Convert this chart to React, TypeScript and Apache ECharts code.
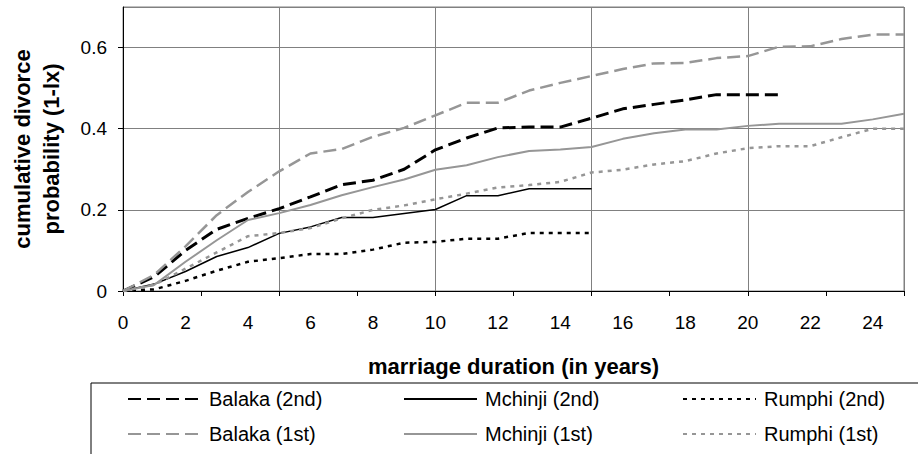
import React, { useEffect, useRef } from "react";
import * as echarts from "echarts";

const years = [0, 1, 2, 3, 4, 5, 6, 7, 8, 9, 10, 11, 12, 13, 14, 15, 16, 17, 18, 19, 20, 21, 22, 23, 24, 25];

const balaka2nd = [0, 0.035, 0.1, 0.152, 0.179, 0.203, 0.232, 0.262, 0.273, 0.3, 0.348, 0.377, 0.402, 0.404, 0.404, 0.426, 0.449, 0.46, 0.471, 0.484, 0.484, 0.484];
const mchinji2nd = [0, 0.017, 0.048, 0.085, 0.107, 0.142, 0.158, 0.181, 0.181, 0.191, 0.201, 0.235, 0.235, 0.252, 0.252, 0.252];
const rumphi2nd = [0, 0.004, 0.025, 0.05, 0.072, 0.081, 0.091, 0.091, 0.102, 0.119, 0.121, 0.129, 0.129, 0.143, 0.143, 0.143];
const balaka1st = [0, 0.04, 0.11, 0.187, 0.244, 0.295, 0.339, 0.35, 0.38, 0.402, 0.433, 0.464, 0.464, 0.494, 0.513, 0.53, 0.547, 0.561, 0.562, 0.574, 0.579, 0.602, 0.603, 0.621, 0.632, 0.632];
const mchinji1st = [0, 0.015, 0.072, 0.125, 0.175, 0.192, 0.212, 0.236, 0.256, 0.275, 0.299, 0.31, 0.33, 0.345, 0.349, 0.355, 0.375, 0.389, 0.398, 0.398, 0.407, 0.412, 0.412, 0.412, 0.423, 0.437];
const rumphi1st = [0, 0.015, 0.055, 0.095, 0.135, 0.143, 0.155, 0.179, 0.2, 0.211, 0.226, 0.24, 0.255, 0.261, 0.269, 0.292, 0.299, 0.312, 0.32, 0.339, 0.352, 0.357, 0.357, 0.379, 0.4, 0.4];

const seriesNames = ["Balaka (2nd)", "Mchinji (2nd)", "Rumphi (2nd)", "Balaka (1st)", "Mchinji (1st)", "Rumphi (1st)"];

const FONT = "'Liberation Sans', Arial, sans-serif";
const GRAY = "#969696";
const GRID = "#808080";

function pairs(vals: number[]) {
  return vals.map((v, i) => [years[i], v]);
}

export default function App() {
  const ref = useRef<HTMLDivElement>(null);
  useEffect(() => {
    if (!ref.current) return;
    const chart = echarts.init(ref.current, undefined, { renderer: "svg" });
    const mk = (name: string, vals: number[], color: string, width: number, type: any) => ({
      name,
      type: "line",
      xAxisIndex: 0,
      yAxisIndex: 0,
      data: pairs(vals),
      symbol: "none",
      showSymbol: false,
      lineStyle: { color, width, type },
      itemStyle: { color },
      silent: true,
    });
    const legendBase = {
      orient: "vertical",
      top: 389,
      itemWidth: 73,
      itemHeight: 20,
      itemGap: 15,
      padding: 0,
      selectedMode: false,
      itemStyle: { opacity: 0 },
      textStyle: { fontSize: 20, color: "#000", fontFamily: FONT, padding: [0, 0, 0, 3] },
    };
    chart.setOption({
      animation: false,
      textStyle: { fontFamily: FONT },
      grid: { left: 119, right: 14, top: 7, bottom: 163, show: true, borderColor: GRID, borderWidth: 1 },
      xAxis: [
        {
          type: "value",
          min: 0,
          max: 25,
          interval: 5,
          position: "bottom",
          axisLine: { show: true, lineStyle: { color: "#000", width: 1 } },
          axisTick: { show: false },
          axisLabel: { show: false },
          splitLine: { show: true, lineStyle: { color: GRID, width: 1 } },
        },
        {
          type: "value",
          min: 0,
          max: 25,
          interval: 2.5,
          position: "bottom",
          axisLine: { show: false },
          axisTick: { show: true, length: 5, lineStyle: { color: "#000" } },
          axisLabel: { show: false },
          splitLine: { show: false },
        },
        {
          type: "value",
          min: 0,
          max: 25,
          interval: 2,
          position: "bottom",
          axisLine: { show: false },
          axisTick: { show: false },
          splitLine: { show: false },
          axisLabel: { show: true, fontSize: 19, color: "#000", margin: 22, showMaxLabel: false, fontFamily: FONT },
          name: "marriage duration (in years)",
          nameLocation: "middle",
          nameGap: 64,
          nameTextStyle: { fontSize: 22, fontWeight: "bold", color: "#000", fontFamily: FONT },
        },
      ],
      yAxis: {
        type: "value",
        min: 0,
        max: 0.7,
        interval: 0.2,
        axisLine: { show: true, lineStyle: { color: "#000", width: 1 } },
        axisTick: { show: true, length: 5, lineStyle: { color: "#000" } },
        axisLabel: { fontSize: 19, color: "#000", margin: 16, showMaxLabel: false, fontFamily: FONT },
        splitLine: { show: true, lineStyle: { color: GRID, width: 1 } },
        name: "cumulative divorce\nprobability (1-lx)",
        nameLocation: "middle",
        nameRotate: 90,
        nameGap: 57,
        nameTextStyle: { fontSize: 22, fontWeight: "bold", color: "#000", lineHeight: 29, fontFamily: FONT },
      },
      legend: [
        { ...legendBase, left: 127, data: [seriesNames[0], seriesNames[3]] },
        { ...legendBase, left: 403, data: [seriesNames[1], seriesNames[4]] },
        { ...legendBase, left: 682, data: [seriesNames[2], seriesNames[5]] },
      ],
      graphic: [
        {
          type: "rect",
          shape: { x: 91, y: 383, width: 900, height: 120 },
          style: { fill: "none", stroke: "#000", lineWidth: 1 },
          silent: true,
        },
      ],
      series: [
        mk(seriesNames[0], balaka2nd, "#000", 3, [13, 6]),
        mk(seriesNames[1], mchinji2nd, "#000", 1.5, "solid"),
        mk(seriesNames[2], rumphi2nd, "#000", 2.5, [4, 5]),
        mk(seriesNames[3], balaka1st, GRAY, 2.5, [13, 6]),
        mk(seriesNames[4], mchinji1st, GRAY, 2, "solid"),
        mk(seriesNames[5], rumphi1st, GRAY, 2.5, [4, 5]),
      ],
    });
    return () => chart.dispose();
  }, []);
  return <div ref={ref} style={{ width: 918, height: 454, position: "absolute", left: 0, top: 0 }} />;
}
